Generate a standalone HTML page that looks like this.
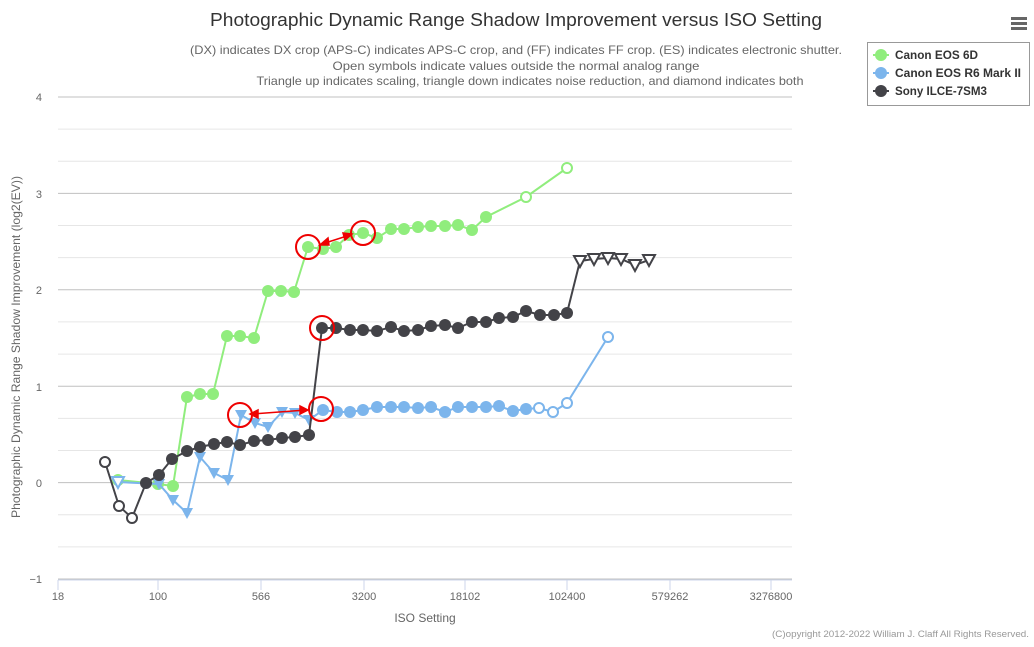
<!DOCTYPE html>
<html><head><meta charset="utf-8"><style>
body{margin:0;background:#fff;}
svg text{font-family:"Liberation Sans Narrow","Liberation Sans",sans-serif;}
</style></head><body>
<svg id="s" width="1034" height="642" xmlns="http://www.w3.org/2000/svg">
<rect width="1034" height="642" fill="#fff"/>
<g id="grid"></g>
<line x1="58" y1="580" x2="792" y2="580" stroke="#ccd6eb" stroke-width="1"/>
<g fill="#666" font-size="11" text-anchor="end">
<text x="42" y="101">4</text><text x="42" y="198">3</text><text x="42" y="294">2</text>
<text x="42" y="391">1</text><text x="42" y="487">0</text><text x="42" y="583">−1</text>
</g>
<g fill="#666" font-size="11" text-anchor="middle">
<text x="58" y="600">18</text><text x="158" y="600">100</text><text x="261" y="600">566</text>
<text x="364" y="600">3200</text><text x="465" y="600">18102</text><text x="567" y="600">102400</text>
<text x="670" y="600">579262</text><text x="771" y="600">3276800</text>
</g>
<g stroke="#ccd6eb"><line x1="58" y1="580" x2="58" y2="590"/><line x1="158" y1="580" x2="158" y2="590"/><line x1="261" y1="580" x2="261" y2="590"/><line x1="364" y1="580" x2="364" y2="590"/><line x1="465" y1="580" x2="465" y2="590"/><line x1="567" y1="580" x2="567" y2="590"/><line x1="670" y1="580" x2="670" y2="590"/><line x1="771" y1="580" x2="771" y2="590"/></g>
<text x="425" y="622" fill="#666" font-size="12" text-anchor="middle">ISO Setting</text>
<text transform="translate(20,347) rotate(-90)" fill="#666" font-size="12" text-anchor="middle" textLength="342" lengthAdjust="spacingAndGlyphs">Photographic Dynamic Range Shadow Improvement (log2(EV))</text>
<text x="516" y="26" fill="#333" font-size="18" text-anchor="middle" textLength="612" lengthAdjust="spacingAndGlyphs">Photographic Dynamic Range Shadow Improvement versus ISO Setting</text>
<g fill="#666" font-size="12" text-anchor="middle">
<text x="516" y="54" textLength="652" lengthAdjust="spacingAndGlyphs">(DX) indicates DX crop (APS-C) indicates APS-C crop, and (FF) indicates FF crop. (ES) indicates electronic shutter.</text>
<text x="516" y="70" textLength="367" lengthAdjust="spacingAndGlyphs">Open symbols indicate values outside the normal analog range</text>
<text x="530" y="85" textLength="547" lengthAdjust="spacingAndGlyphs">Triangle up indicates scaling, triangle down indicates noise reduction, and diamond indicates both</text>
</g>
<text x="1029" y="637" fill="#999" font-size="9" text-anchor="end" textLength="257" lengthAdjust="spacingAndGlyphs">(C)opyright 2012-2022 William J. Claff All Rights Reserved.</text>
<g fill="#666"><rect x="1011" y="17" width="16" height="3"/><rect x="1011" y="22" width="16" height="3"/><rect x="1011" y="27" width="16" height="3"/></g>
<rect x="867.5" y="42.5" width="162" height="63" fill="#fff" stroke="#999"/>
<g font-size="12" font-weight="bold" fill="#333">
<line x1="873" y1="55" x2="889" y2="55" stroke="#90ed7d" stroke-width="2"/><circle cx="881" cy="55" r="6" fill="#90ed7d"/><text x="895" y="59" textLength="83" lengthAdjust="spacingAndGlyphs">Canon EOS 6D</text>
<line x1="873" y1="73" x2="889" y2="73" stroke="#7cb5ec" stroke-width="2"/><circle cx="881" cy="73" r="6" fill="#7cb5ec"/><text x="895" y="77" textLength="126" lengthAdjust="spacingAndGlyphs">Canon EOS R6 Mark II</text>
<line x1="873" y1="91" x2="889" y2="91" stroke="#434348" stroke-width="2"/><circle cx="881" cy="91" r="6" fill="#434348"/><text x="895" y="95" textLength="92" lengthAdjust="spacingAndGlyphs">Sony ILCE-7SM3</text>
</g>
<g id="ser"></g>
<g fill="none" stroke="#e00" stroke-width="2">
<circle cx="308" cy="247" r="12"/><circle cx="363" cy="233" r="12"/><circle cx="240" cy="415" r="12"/><circle cx="321" cy="409" r="12"/><circle cx="322" cy="328" r="12"/>
</g>
<g stroke="#e00" stroke-width="1.5" fill="#e00">
<line x1="322" y1="244" x2="350" y2="235"/><polygon points="320,245 328,238 329,245"/><polygon points="352,234 343,233 345,240"/>
<line x1="252" y1="414" x2="306" y2="410"/><polygon points="250,414 258,410 258,418"/><polygon points="308,410 300,406 300,414"/>
</g>
</svg>
<script>
var NS="http://www.w3.org/2000/svg",s=document.getElementById('ser'),g=document.getElementById('grid');
function el(n,a,p){var e=document.createElementNS(NS,n);for(var k in a)e.setAttribute(k,a[k]);(p||s).appendChild(e);return e;}
for(var i=0;i<=15;i++){var y=97+i*482/15;el('line',{x1:58,x2:792,y1:y,y2:y,stroke:i%3==0?'#c0c0c0':'#e6e6e6','stroke-width':1},g);}
function series(c,pts){
 el('polyline',{points:pts.map(function(p){return p[0]+','+p[1]}).join(' '),fill:'none',stroke:c,'stroke-width':2});
 pts.forEach(function(p){var t=p[2]||'f',x=p[0],y=p[1];
  if(t=='f')el('circle',{cx:x,cy:y,r:6,fill:c});
  else if(t=='o')el('circle',{cx:x,cy:y,r:5,fill:'#fff',stroke:c,'stroke-width':2});
  else if(t=='t')el('polygon',{points:(x-6)+','+(y-5)+' '+(x+6)+','+(y-5)+' '+x+','+(y+6),fill:c});
  else if(t=='to')el('polygon',{points:(x-6)+','+(y-5)+' '+(x+6)+','+(y-5)+' '+x+','+(y+6),fill:'#fff',stroke:c,'stroke-width':2});
 });}
series('#90ed7d',[[118,480,'o'],[158,484],[173,486],[187,397],[200,394],[213,394],[227,336],[240,336],[254,338],[268,291],[281,291],[294,292],[308,247],[323,249],[336,247],[349,235],[363,233],[377,238],[391,229],[404,229],[418,227],[431,226],[445,226],[458,225],[472,230],[486,217],[526,197,'o'],[567,168,'o']]);
series('#7cb5ec',[[118,482,'to'],[159,484,'t'],[173,500,'t'],[187,513,'t'],[200,457,'t'],[214,473,'t'],[228,480,'t'],[241,415,'t'],[255,423,'t'],[268,427,'t'],[282,412,'t'],[295,413,'t'],[309,420,'t'],[323,410],[337,412],[350,412],[363,410],[377,407],[391,407],[404,407],[418,408],[431,407],[445,412],[458,407],[472,407],[486,407],[499,406],[513,411],[526,409],[539,408,'o'],[553,412,'o'],[567,403,'o'],[608,337,'o']]);
series('#434348',[[105,462,'o'],[119,506,'o'],[132,518,'o'],[146,483],[159,475],[172,459],[187,451],[200,447],[214,444],[227,442],[240,445],[254,441],[268,440],[282,438],[295,437],[309,435],[322,328],[336,328],[350,330],[363,330],[377,331],[391,327],[404,331],[418,330],[431,326],[445,325],[458,328],[472,322],[486,322],[499,318],[513,317],[526,311],[540,315],[554,315],[567,313],[580,261,'to'],[594,259,'to'],[608,258,'to'],[621,259,'to'],[635,265,'to'],[649,260,'to']]);
</script>
</body></html>
